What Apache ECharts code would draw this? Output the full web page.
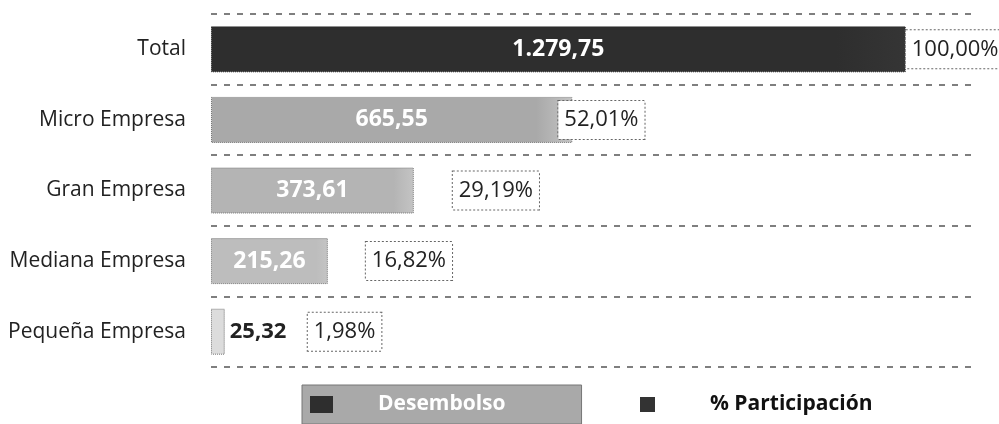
<!DOCTYPE html>
<html>
<head>
<meta charset="utf-8">
<script src="https://cdn.jsdelivr.net/npm/echarts@6/dist/echarts.min.js"></script>
<style>
  html, body { margin: 0; padding: 0; background: #fff; }
  #chart { width: 999px; height: 424px; }
</style>
</head>
<body>
<div id="chart"></div>
<script>
// datos
var categorias = ['Total', 'Micro Empresa', 'Gran Empresa', 'Mediana Empresa', 'Pequeña Empresa'];
var desembolso = [1279.75, 665.55, 373.61, 215.26, 25.32];
var participacion = [100.00, 52.01, 29.19, 16.82, 1.98];

// estilo de cada barra (gris oscuro para el total)
var colores = ['#2e2e2e', '#a9a9a9', '#b4b4b4', '#bdbdbd', '#dcdcdc'];
// desplazamiento de la caja del % respecto al fin de la barra
var despPct = [0, -14, 39, 38, 83];

var maxEje = 1400;
var total = desembolso[0];

function fmt(v) {
  var p = v.toFixed(2).split('.');
  var ent = p[0].replace(/\B(?=(\d{3})+(?!\d))/g, '.');
  return ent + ',' + p[1];
}

var chart = echarts.init(document.getElementById('chart'));

var dataDes = desembolso.map(function (v, i) {
  var d = {
    value: v,
    itemStyle: {
      color: new echarts.graphic.LinearGradient(0, 0, 1, 0, [
        { offset: 0, color: colores[i] },
        { offset: 0.9, color: colores[i] },
        { offset: 1, color: i == 0 ? '#353535' : '#c4c4c4' }
      ]),
      borderColor: i == 0 ? '#222' : '#777',
      borderWidth: 1,
      borderType: 'dotted'
    }
  };
  if (i == 4) {
    d.label = { position: 'right', distance: 5, color: '#222', fontSize: 22 };
  }
  return d;
});

var dataPct = participacion.map(function (v, i) {
  return {
    value: v,
    label: { offset: [despPct[i], 0] }
  };
});

var option = {
  animation: false,
  grid: { left: 211, right: 28, top: 14, bottom: 57 },
  xAxis: [
    { type: 'value', min: 0, max: maxEje, show: false, splitLine: { show: false } },
    { type: 'value', min: 0, max: maxEje / total * 100, show: false, splitLine: { show: false } }
  ],
  yAxis: {
    type: 'category',
    inverse: true,
    data: categorias,
    axisLine: { show: false },
    axisTick: { show: false },
    axisLabel: {
      margin: 25,
      color: '#222',
      fontSize: 21,
      fontFamily: 'Open Sans'
    },
    splitLine: {
      show: true,
      lineStyle: { color: '#555', type: [6, 7], width: 1.5 }
    }
  },
  legend: [
    {
      data: ['Desembolso'],
      left: 302,
      bottom: 0,
      orient: 'horizontal',
      backgroundColor: '#a9a9a9',
      borderColor: '#777',
      borderWidth: 1,
      padding: [9, 76, 9, 8],
      icon: 'rect',
      itemWidth: 23,
      itemHeight: 17,
      selectedMode: false,
      textStyle: {
        color: '#fff',
        fontWeight: 'bold',
        fontSize: 21,
        fontFamily: 'Open Sans',
        padding: [0, 0, 0, 40]
      }
    },
    {
      data: [{ name: '% Participación', itemStyle: { color: '#333' } }],
      left: 632,
      bottom: 0,
      padding: [9, 8, 9, 8],
      icon: 'rect',
      itemWidth: 15,
      itemHeight: 15,
      selectedMode: false,
      textStyle: {
        color: '#111',
        fontWeight: 'bold',
        fontSize: 21,
        fontFamily: 'Open Sans',
        padding: [0, 0, 0, 50]
      }
    }
  ],
  series: [
    {
      name: 'Desembolso',
      type: 'bar',
      barWidth: 46,
      itemStyle: { color: '#2e2e2e' },
      label: {
        show: true,
        position: 'inside',
        color: '#fff',
        fontWeight: 'bold',
        fontSize: 23,
        fontFamily: 'Open Sans',
        formatter: function (p) { return fmt(p.value); }
      },
      data: dataDes,
      z: 2
    },
    {
      name: '% Participación',
      type: 'bar',
      xAxisIndex: 1,
      barWidth: 46,
      barGap: '-100%',
      itemStyle: { color: 'rgba(0,0,0,0)' },
      label: {
        show: true,
        position: 'right',
        distance: 0,
        color: '#222',
        fontSize: 22,
        fontFamily: 'Open Sans',
        backgroundColor: '#fff',
        borderColor: '#666',
        borderWidth: 1,
        borderType: 'dotted',
        padding: [8, 6, 8, 6],
        formatter: function (p) { return fmt(p.value) + '%'; }
      },
      data: dataPct,
      z: 3
    }
  ]
};

chart.setOption(option);
</script>
</body>
</html>
